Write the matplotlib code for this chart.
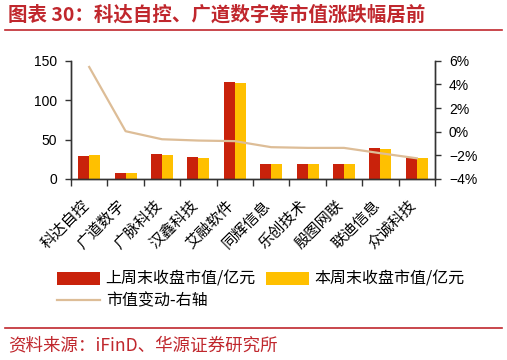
"""Bar + line combo: weekly market cap per stock, with % change on right axis."""

import matplotlib

matplotlib.use("Agg")
import matplotlib.pyplot as plt
from matplotlib.ticker import FixedLocator, FuncFormatter
from matplotlib.transforms import ScaledTranslation
import numpy as np

plt.rcParams["font.family"] = ["Liberation Sans", "Noto Sans CJK SC", "DejaVu Sans"]
plt.rcParams["axes.unicode_minus"] = True

CJK = ["Noto Sans CJK SC", "DejaVu Sans"]

companies = ["科达自控", "广道数字", "广脉科技", "汉鑫科技", "艾融软件",
             "同辉信息", "乐创技术", "殷图网联", "联迪信息", "众诚科技"]
last_week_cap = [29.2, 7.2, 31.3, 27.5, 122.5, 18.6, 19.0, 18.6, 39.3, 26.2]
this_week_cap = [30.4, 7.0, 30.4, 26.2, 121.6, 18.6, 19.0, 18.6, 38.0, 26.0]
cap_change_pct = [5.47, 0.04, -0.64, -0.75, -0.80, -1.31, -1.37, -1.37, -1.82, -2.25]

RED = "#C9220B"
YELLOW = "#FFC000"
TAN = "#DDBD97"
TITLE_RED = "#C0272D"

fig = plt.figure(figsize=(5.07, 3.60), dpi=100)
ax = fig.add_axes([71 / 507, 1 - 179 / 360, (435 - 71) / 507, (179 - 60.7) / 360])
ax2 = ax.twinx()

x = np.arange(len(companies))
w = 0.3
b1 = ax.bar(x - w / 2, last_week_cap, width=w, color=RED, label="上周末收盘市值/亿元", zorder=2)
b2 = ax.bar(x + w / 2, this_week_cap, width=w, color=YELLOW, label="本周末收盘市值/亿元", zorder=2)
(ln,) = ax2.plot(x, cap_change_pct, color=TAN, lw=1.6, label="市值变动-右轴")

ax.set_xlim(-0.5, len(companies) - 0.5)
ax.set_ylim(0, 150)
ax.set_yticks([0, 50, 100, 150])
ax2.set_ylim(-4, 6)
ax2.set_yticks([-4, -2, 0, 2, 4, 6])
ax2.yaxis.set_major_formatter(FuncFormatter(lambda v, _: f"{v:.0f}%".replace("-", "\u2212")))

for a in (ax, ax2):
    a.spines["top"].set_visible(False)
    for s in a.spines.values():
        s.set_color("#333333")
        s.set_linewidth(1.0)

ax.set_xticks(x)
ax.set_xticklabels(companies, rotation=45, ha="right", va="center",
                   rotation_mode="anchor", family=CJK, fontsize=11)
ax.tick_params(axis="x", which="major", length=0, pad=17)
shift = ScaledTranslation(-3 / 100, 0, fig.dpi_scale_trans)
for lbl in ax.get_xticklabels():
    lbl.set_transform(lbl.get_transform() + shift)
ax.xaxis.set_minor_locator(FixedLocator(np.arange(-0.5, len(companies), 1.0)))
ax.tick_params(axis="x", which="minor", length=5, width=1, color="#333333")
ax.tick_params(axis="y", length=4, width=1, color="#333333", labelsize=10, pad=6)
ax2.tick_params(axis="y", length=4, width=1, color="#333333", labelsize=10, pad=6)

fig.legend([b1, ln, b2], [b1.get_label(), ln.get_label(), b2.get_label()],
           ncol=2, loc="upper left", bbox_to_anchor=(57 / 507, 1 - 271 / 360),
           frameon=False, prop={"family": CJK, "size": 11.5},
           handlelength=2.7, handleheight=0.8, handletextpad=0.35,
           columnspacing=0.6, labelspacing=0.3, borderpad=0, borderaxespad=0)

fig.text(8 / 507, 1 - 15 / 360, "图表 30：科达自控、广道数字等市值涨跌幅居前",
         color=TITLE_RED, fontsize=14, fontweight="bold", family=CJK,
         ha="left", va="center")
fig.add_artist(plt.Line2D([5 / 507, 502 / 507], [1 - 30 / 360] * 2,
                          color=TITLE_RED, lw=1.2, transform=fig.transFigure))
fig.add_artist(plt.Line2D([5 / 507, 502 / 507], [1 - 327.7 / 360] * 2,
                          color=TITLE_RED, lw=1.2, transform=fig.transFigure))
fig.text(8 / 507, 1 - 345 / 360, "资料来源：iFinD、华源证券研究所",
         color=TITLE_RED, fontsize=12.6, family=CJK, ha="left", va="center")

fig.savefig("out.png", dpi=100)
